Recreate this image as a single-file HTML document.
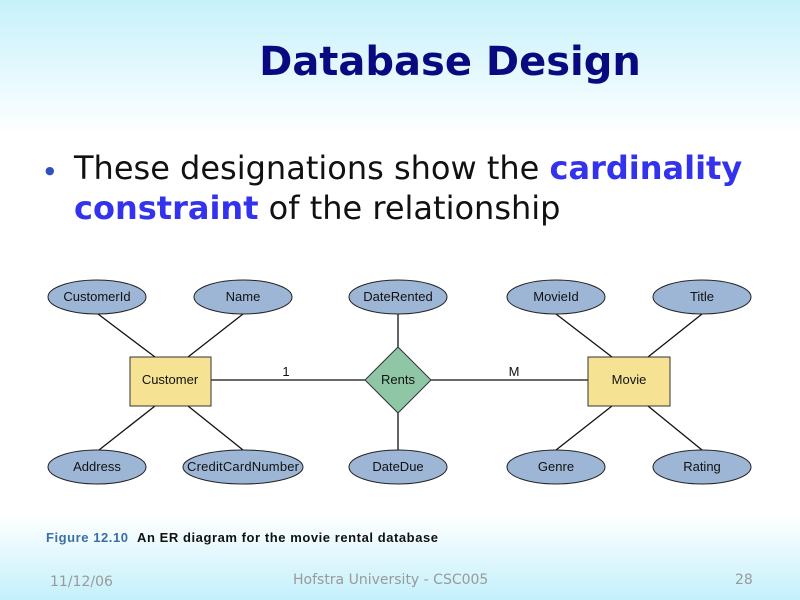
<!DOCTYPE html>
<html><head><style>
html,body{margin:0;padding:0}
body{width:800px;height:600px;position:relative;overflow:hidden;font-family:"DejaVu Sans","Liberation Sans",sans-serif;
background:linear-gradient(to bottom,#c6f1fb 0px,#ffffff 135px,#ffffff 515px,#c3f0fb 600px);}
.t{position:absolute;white-space:nowrap}
</style></head><body>
<div class="t" style="left:0;width:900px;text-align:center;top:39px;font-size:40px;font-weight:bold;color:#0a0a80;">Database Design</div>
<div class="t" style="left:45px;top:164px;font-size:11px;color:#3050c0">●</div>
<div class="t" style="left:74px;top:148px;font-size:32px;color:#111;line-height:40px">These designations show the <b style="color:#3333ee">cardinality</b><br><b style="color:#3333ee">constraint</b> of the relationship</div>
<svg width="800" height="600" style="position:absolute;left:0;top:0" font-family="Liberation Sans, sans-serif" font-size="13">
<g stroke="#111" stroke-width="1.3">
<line x1="98" y1="314" x2="155" y2="357"/><line x1="243" y1="314" x2="188" y2="357"/>
<line x1="155" y1="406" x2="99" y2="450"/><line x1="188" y1="406" x2="243" y2="450"/>
<line x1="556" y1="314" x2="612" y2="357"/><line x1="702" y1="314" x2="648" y2="357"/>
<line x1="612" y1="406" x2="556" y2="450"/><line x1="648" y1="406" x2="702" y2="450"/>
<line x1="211" y1="380" x2="588" y2="380"/>
<line x1="398" y1="314" x2="398" y2="450"/>
</g>
<g fill="#9db6d6" stroke="#222" stroke-width="1">
<ellipse cx="97" cy="297" rx="49" ry="17"/><ellipse cx="243" cy="297" rx="49" ry="17"/>
<ellipse cx="398" cy="297" rx="49" ry="17"/><ellipse cx="556" cy="297" rx="49" ry="17"/>
<ellipse cx="702" cy="297" rx="49" ry="17"/>
<ellipse cx="97" cy="467" rx="49" ry="17"/><ellipse cx="243" cy="467" rx="60" ry="17"/>
<ellipse cx="398" cy="467" rx="49" ry="17"/><ellipse cx="556" cy="467" rx="49" ry="17"/>
<ellipse cx="702" cy="467" rx="49" ry="17"/>
</g>
<rect x="130" y="357" width="81" height="49" fill="#f5e393" stroke="#333"/>
<rect x="588" y="357" width="82" height="49" fill="#f5e393" stroke="#333"/>
<polygon points="398,347 431,380 398,413 365,380" fill="#8fc7a6" stroke="#333"/>
<g fill="#111" text-anchor="middle">
<text x="97" y="301">CustomerId</text><text x="243" y="301">Name</text><text x="398" y="301">DateRented</text>
<text x="556" y="301">MovieId</text><text x="702" y="301">Title</text>
<text x="97" y="471">Address</text><text x="243" y="471" textLength="112">CreditCardNumber</text><text x="398" y="471">DateDue</text>
<text x="556" y="471">Genre</text><text x="702" y="471">Rating</text>
<text x="170" y="384">Customer</text><text x="629" y="384">Movie</text><text x="398" y="384">Rents</text>
<text x="286" y="376">1</text><text x="514" y="376">M</text>
</g>
<text x="46" y="542" font-size="13" font-weight="bold" fill="#3a6ea5" textLength="82">Figure 12.10</text>
<text x="137" y="542" font-size="13" font-weight="bold" fill="#111" textLength="301">An ER diagram for the movie rental database</text>
</svg>
<div class="t" style="left:50px;top:574px;font-size:14px;color:#999">11/12/06</div>
<div class="t" style="left:293px;top:572px;font-size:14px;color:#999">Hofstra University - CSC005</div>
<div class="t" style="left:735px;top:572px;font-size:14px;color:#999">28</div>
</body></html>
